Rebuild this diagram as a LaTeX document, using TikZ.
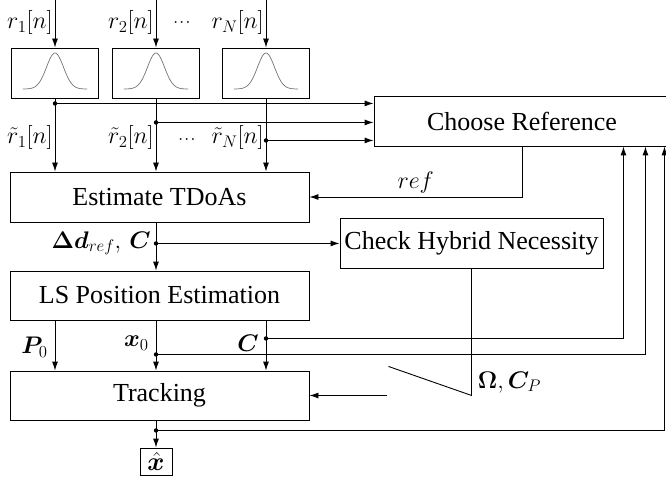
\RequirePackage{fix-cm}
\documentclass[tikz,border=0pt]{standalone}
\usepackage{amsmath}
\usepackage{bm}
\usepackage{fontspec}
\setmainfont{Liberation Serif}
\usetikzlibrary{arrows.meta,calc}
\begin{document}
\begin{tikzpicture}[x=1pt,y=-1pt, line width=0.9pt,
  >={Latex[length=9pt,width=6pt]},
  box/.style={draw, inner sep=0pt, font=\fontsize{26}{30}\selectfont},
  lbl/.style={inner sep=0pt, font=\fontsize{24}{28}\selectfont},
  dotslbl/.style={inner sep=0pt, font=\fontsize{12}{14}\selectfont},
  gauss/.style={draw=black!55, line width=0.7pt}]
\clip (0,0) rectangle (666,478);
% filter boxes
\node[box, minimum width=87pt, minimum height=50pt] (f1) at (55,73) {};
\node[box, minimum width=87pt, minimum height=50pt] (f2) at (156,73) {};
\node[box, minimum width=87pt, minimum height=50pt] (f3) at (266,73) {};
\foreach \f in {f1,f2,f3}{
  \draw[gauss, shift={(\f.center)}] plot[domain=-32:32, samples=60, smooth] (\x, {16-36*exp(-(\x/12)^2)});
}
% main blocks
\node[box, minimum width=299pt, minimum height=50pt] (E) at (159.5,197) {Estimate TDoAs};
\node[box, minimum width=299pt, minimum height=49pt] (LS) at (159.5,295.5) {LS Position Estimation};
\node[box, minimum width=299pt, minimum height=49pt] (T) at (159.5,395.5) {Tracking};
\node[box, minimum width=296pt, minimum height=50pt] (CR) at (522,121) {Choose Reference};
\node[box, minimum width=263pt, minimum height=50pt] (CH) at (471.5,243) {Check Hybrid Necessity};
\node[box, minimum width=32pt, minimum height=27pt] (X) at (156,461.5) {$\hat{\bm{x}}$};
% inputs
\coordinate (i1) at (f1.north |- 0,0);
\coordinate (i2) at (f2.north |- 0,0);
\coordinate (i3) at (f3.north |- 0,0);
\draw[->] (i1) -- (f1.north);
\draw[->] (i2) -- (f2.north);
\draw[->] (i3) -- (f3.north);
\node[lbl, anchor=east] at (53,23) {$r_1[n]$};
\node[lbl, anchor=east] at (154,23) {$r_2[n]$};
\node[dotslbl] at (183,23) {$\bm{\cdots}$};
\node[lbl, anchor=east] at (264,23) {$r_N[n]$};
% filter outputs
\draw[->] (f1.south) -- (f1.south |- E.north);
\draw[->] (f2.south) -- (f2.south |- E.north);
\draw[->] (f3.south) -- (f3.south |- E.north);
\node[lbl, anchor=east] at (53,138) {$\tilde{r}_1[n]$};
\node[lbl, anchor=east] at (154,138) {$\tilde{r}_2[n]$};
\node[dotslbl] at (188,140) {$\bm{\cdots}$};
\node[lbl, anchor=east] at (264,138) {$\tilde{r}_N[n]$};
\coordinate (j1) at ($(f1.south)+(0,5)$);
\coordinate (j2) at ($(f2.south)+(0,24)$);
\coordinate (j3) at ($(f3.south)+(0,42)$);
\draw[->] (j1) -- (j1 -| CR.west);
\draw[->] (j2) -- (j2 -| CR.west);
\draw[->] (j3) -- (j3 -| CR.west);
\foreach \j in {j1,j2,j3} \fill (\j) circle (2.2pt);
% ref
\draw[->] (CR.south) |- (E.east) node[lbl, pos=0.75, above=3pt] {$ref$};
% E -> LS
\draw[->] (E.south -| f2.south) -- (LS.north -| f2.south);
\coordinate (j4) at ($(E.south -| f2.south)+(0,21)$);
\draw[->] (j4) -- (j4 -| CH.west);
\fill (j4) circle (2.2pt);
\node[lbl, anchor=east] at ($(j4)+(-5,0)$) {$\bm{\Delta}\bm{d}_{ref},\,\bm{C}$};
% LS -> T
\draw[->] (LS.south -| f1.south) -- (T.north -| f1.south);
\draw[->] (LS.south -| f2.south) -- (T.north -| f2.south);
\draw[->] (LS.south -| f3.south) -- (T.north -| f3.south);
\node[lbl, anchor=east] at (48,347) {$\bm{P}_0$};
\node[lbl, anchor=east] at (149,343) {$\bm{x}_0$};
\node[lbl, anchor=east] at (259,343) {$\bm{C}$};
\coordinate (j5) at ($(LS.south -| f3.south)+(0,18)$);
\coordinate (j6) at ($(LS.south -| f2.south)+(0,34)$);
\coordinate (u1) at ($(CR.south east)+(-47,0)$);
\coordinate (u2) at ($(CR.south east)+(-25,0)$);
\coordinate (u3) at ($(CR.south east)+(-6,0)$);
\draw[->] (j5) -| (u1);
\draw[->] (j6) -| (u2);
\fill (j5) circle (2.2pt);
\fill (j6) circle (2.2pt);
% output
\draw[->] (T.south -| X.north) -- (X.north);
\coordinate (j7) at ($(T.south -| X.north)+(0,10)$);
\draw[->] (j7) -| (u3);
\fill (j7) circle (2.2pt);
% switch
\coordinate (s1) at ($(CH.south)+(0,127)$);
\draw (CH.south) -- (s1) -- ++(-83,-29);
\coordinate (s2) at ($(T.east)+(78,0)$);
\draw[->] (s2) -- (T.east);
\node[lbl, anchor=west] at ($(s1)+(6,-13)$) {$\bm{\Omega}, \bm{C}_P$};
\end{tikzpicture}
\end{document}
